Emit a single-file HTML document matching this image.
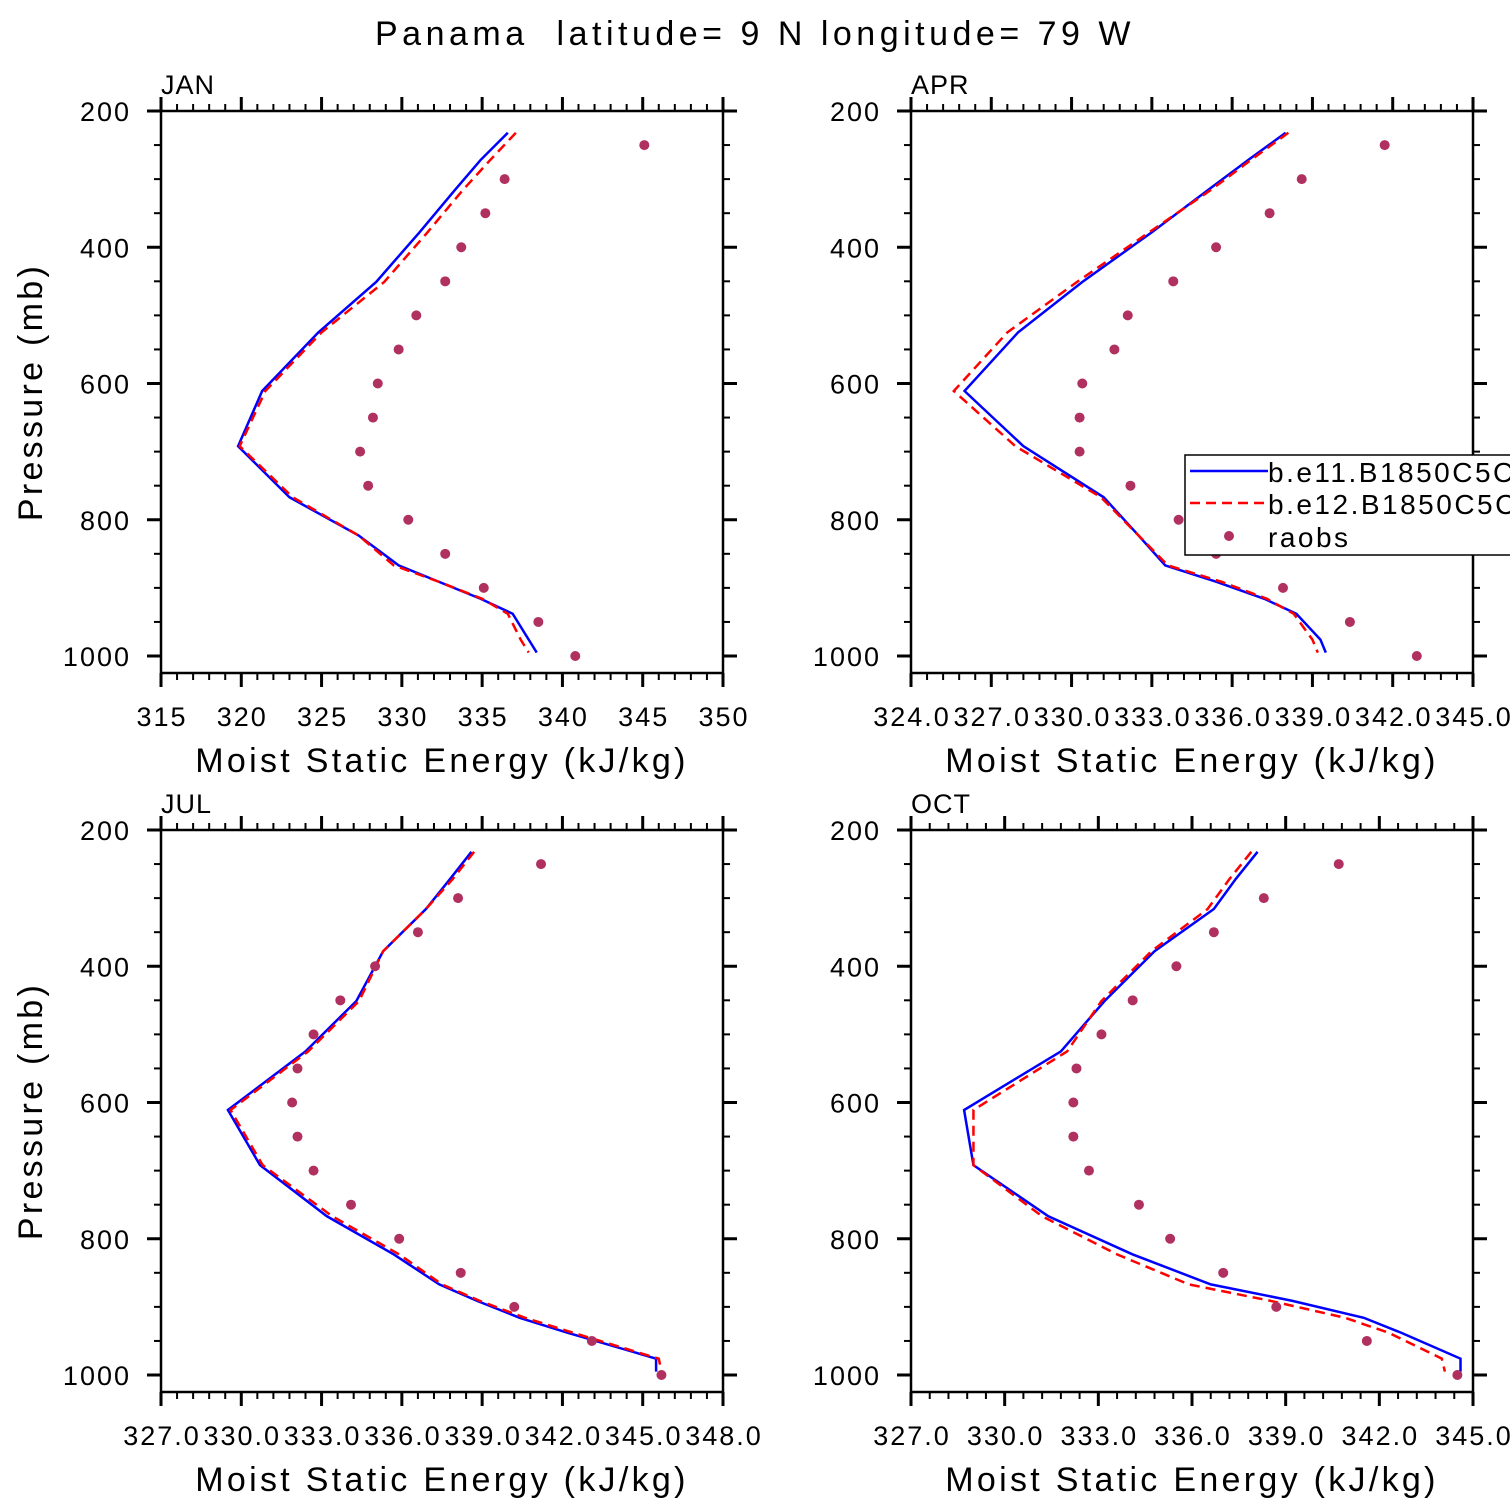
<!DOCTYPE html>
<html><head><meta charset="utf-8"><style>
body{margin:0;background:#fff;width:1510px;height:1510px;overflow:hidden}
svg{display:block}
text{font-family:"Liberation Sans",sans-serif;fill:#000;white-space:pre}
</style></head><body>
<svg id="chart" width="1510" height="1510" viewBox="0 0 1510 1510">
<text x="755" y="45" text-anchor="middle" font-size="34" letter-spacing="4.5">Panama  latitude= 9 N longitude= 79 W</text>
</svg>
<script>
const raobLevels=[250,300,350,400,450,500,550,600,650,700,750,800,850,900,950,1000];
const modelLevels=[232,272,316,378,451,525,611,692,767,823,867,891,916,938,976,995];
const janRaobs=[345.1,336.4,335.2,333.7,332.7,330.9,329.8,328.5,328.2,327.4,327.9,330.4,332.7,335.1,338.5,340.8];
const janB11=[336.6,334.9,333.3,331.1,328.4,324.8,321.3,319.8,323.0,327.3,329.8,332.3,334.9,336.9,337.9,338.4];
const janB12=[337.1,335.5,333.8,331.6,328.9,325.0,321.5,319.9,323.2,327.3,329.5,332.3,335.0,336.6,337.4,337.9];
const aprRaobs=[341.7,338.6,337.4,335.4,333.8,332.1,331.6,330.4,330.3,330.3,332.2,334.0,335.4,337.9,340.4,342.9];
const aprB11=[338.0,336.6,335.1,333.0,330.4,328.0,326.0,328.2,331.2,332.5,333.5,335.4,337.2,338.4,339.3,339.5];
const aprB12=[338.1,336.7,335.2,332.9,330.2,327.6,325.6,327.9,331.1,332.5,333.6,335.6,337.3,338.3,339.0,339.2];
const julRaobs=[341.2,338.1,336.6,335.0,333.7,332.7,332.1,331.9,332.1,332.7,334.1,335.9,338.2,340.2,343.1,345.7];
const julB11=[338.6,337.8,336.9,335.3,334.3,332.4,329.5,330.7,333.2,335.7,337.4,338.8,340.4,342.2,345.5,345.5];
const julB12=[338.7,337.9,336.9,335.3,334.4,332.5,329.6,330.8,333.4,335.9,337.5,338.9,340.6,342.4,345.6,345.7];
const octRaobs=[340.7,338.3,336.7,335.5,334.1,333.1,332.3,332.2,332.2,332.7,334.3,335.3,337.0,338.7,341.6,344.5];
const octB11=[338.1,337.4,336.7,334.8,333.2,331.8,328.7,329.0,331.4,334.1,336.6,339.2,341.5,342.7,344.6,344.6];
const octB12=[337.9,337.2,336.5,334.7,333.1,332.0,329.0,329.0,331.2,333.6,335.9,338.5,340.9,342.3,344.0,344.1];
const yTicks=[200,400,600,800,1000];
const janXTicks=["315","320","325","330","335","340","345","350"];
const aprXTicks=["324.0","327.0","330.0","333.0","336.0","339.0","342.0","345.0"];
const julXTicks=["327.0","330.0","333.0","336.0","339.0","342.0","345.0","348.0"];
const octXTicks=["327.0","330.0","333.0","336.0","339.0","342.0","345.0"];

const NS="http://www.w3.org/2000/svg";
const svg=document.getElementById('chart');
function mk(tag,attrs,parent){const e=document.createElementNS(NS,tag);for(const k in attrs)e.setAttribute(k,attrs[k]);(parent||svg).appendChild(e);return e;}

function panel(cfg){
  const L=cfg.x0,T=cfg.y0,W=562,H=562;
  const g=mk('g',{});
  
  
  const ppm=545/800;
  const yS=p=>T+(p-200)*ppm;
  const xS=v=>L+(v-cfg.xmin)/(cfg.xmax-cfg.xmin)*W;
  const cp=mk('clipPath',{id:'clip-'+cfg.name},g);
  mk('rect',{x:L,y:T,width:W,height:H},cp);
  const box=mk('rect',{x:L,y:T,width:W,height:H,fill:'none',stroke:'#000','stroke-width':2.5},g);
  
  
  for(let p=200;p<=1000;p+=50){
    const y=yS(p);const major=p%200===0;const len=major?14:7;
    mk('line',{x1:L-len,y1:y,x2:L,y2:y,stroke:'#000','stroke-width':major?3:2},g);
    mk('line',{x1:L+W,y1:y,x2:L+W+len,y2:y,stroke:'#000','stroke-width':major?3:2},g);
  }
  yTicks.forEach(p=>{
    const t=mk('text',{x:L-30,y:yS(p)+10,'text-anchor':'end','font-size':27,'letter-spacing':2},g);
    
    
    t.textContent=p;
  });
  const step=cfg.xstep,minor=step/5;
  for(let v=cfg.xmin;v<=cfg.xmax+1e-6;v+=minor){
    const x=xS(v);const k=Math.round((v-cfg.xmin)/minor);const major=k%5===0;const len=major?14:7;
    mk('line',{x1:x,y1:T+H,x2:x,y2:T+H+len,stroke:'#000','stroke-width':major?3:2},g);
    mk('line',{x1:x,y1:T-len,x2:x,y2:T,stroke:'#000','stroke-width':major?3:2},g);
  }
  cfg.xticks.forEach((s,i)=>{
    const t=mk('text',{x:xS(cfg.xmin+i*step)+1,y:T+H+53,'text-anchor':'middle','font-size':27,'letter-spacing':2},g);
    
    
    t.textContent=s;
  });
  const xt=mk('text',{x:L+W/2,y:T+H+99,'text-anchor':'middle','font-size':34,'letter-spacing':3.3},g);
  
  
  xt.textContent='Moist Static Energy (kJ/kg)';
  if(cfg.ylabel){
    const yt=mk('text',{x:0,y:0,'text-anchor':'middle','font-size':34,'letter-spacing':3.3,transform:`translate(42,${T+H/2}) rotate(-90)`},g);
    
    
    yt.textContent='Pressure (mb)';
  }
  const mt=mk('text',{x:L,y:T-17,'font-size':27,'letter-spacing':1},g);
  
  
  mt.textContent=cfg.label;
  const dg=mk('g',{'clip-path':`url(#clip-${cfg.name})`},g);
  const pb=mk('polyline',{points:cfg.b11.map((v,i)=>xS(v)+','+yS(modelLevels[i])).join(' '),fill:'none',stroke:'#0000ff','stroke-width':2.5},dg);
  
  
  const pr=mk('polyline',{points:cfg.b12.map((v,i)=>xS(v)+','+yS(modelLevels[i])).join(' '),fill:'none',stroke:'#ff0000','stroke-width':2.5,'stroke-dasharray':'10 6'},dg);
  
  
  cfg.raobs.forEach((v,i)=>{
    const c=mk('circle',{cx:xS(v),cy:yS(raobLevels[i]),r:5,fill:'#b03060'},dg);
    
    
  });
}
panel({name:'jan',label:'JAN',x0:161,y0:111,xmin:315,xmax:350,xstep:5,xticks:janXTicks,raobs:janRaobs,b11:janB11,b12:janB12,ylabel:true});
panel({name:'apr',label:'APR',x0:911,y0:111,xmin:324,xmax:345,xstep:3,xticks:aprXTicks,raobs:aprRaobs,b11:aprB11,b12:aprB12,ylabel:false});
panel({name:'jul',label:'JUL',x0:161,y0:830,xmin:327,xmax:348,xstep:3,xticks:julXTicks,raobs:julRaobs,b11:julB11,b12:julB12,ylabel:true});
panel({name:'oct',label:'OCT',x0:911,y0:830,xmin:327,xmax:345,xstep:3,xticks:octXTicks,raobs:octRaobs,b11:octB11,b12:octB12,ylabel:false});

const lg=mk('g',{});


mk('rect',{x:1185,y:455,width:340,height:100,fill:'#fff',stroke:'#000','stroke-width':1.5},lg);
mk('line',{x1:1190,y1:471,x2:1268,y2:471,stroke:'#0000ff','stroke-width':2.5},lg);
mk('line',{x1:1190,y1:503,x2:1268,y2:503,stroke:'#ff0000','stroke-width':2.5,'stroke-dasharray':'10 6'},lg);
mk('circle',{cx:1229,cy:536,r:5,fill:'#b03060'},lg);
[['b.e11.B1850C5CN',482,'legend-entry-b-e11'],['b.e12.B1850C5CN',514,'legend-entry-b-e12'],['raobs',547,'legend-entry-raobs']].forEach(d=>{
  const t=mk('text',{x:1268,y:d[1],'font-size':28,'letter-spacing':2.5},lg);
  
  
  t.textContent=d[0];
});
</script>
</body></html>
